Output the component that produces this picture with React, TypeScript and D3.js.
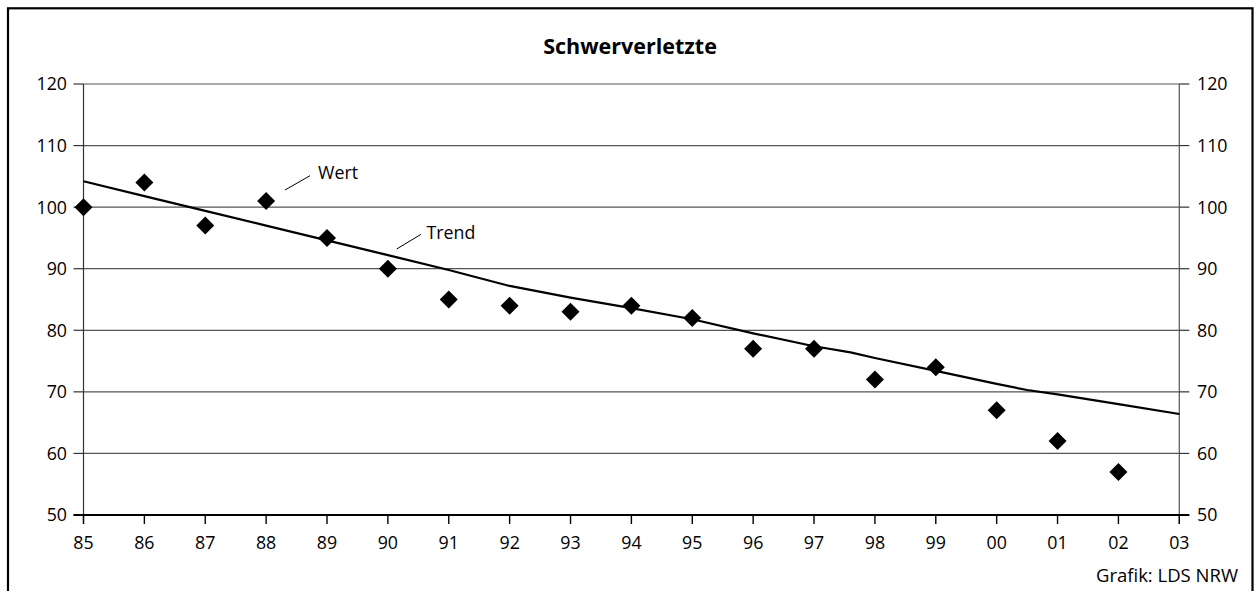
import React from "react";
import * as d3 from "d3";

const years = [85, 86, 87, 88, 89, 90, 91, 92, 93, 94, 95, 96, 97, 98, 99, 100, 101, 102];
const values = [100, 104, 97, 101, 95, 90, 85, 84, 83, 84, 82, 77, 77, 72, 74, 67, 62, 57];
const trendYears = [85, 86, 87, 88, 89, 90, 91, 92, 93, 94, 95, 96, 97, 97.6, 98, 99, 100, 100.5, 101, 102, 103];
const trendValues = [104.2, 101.8, 99.4, 97.0, 94.6, 92.2, 89.8, 87.2, 85.3, 83.6, 81.8, 79.5, 77.4, 76.4, 75.5, 73.4, 71.3, 70.3, 69.6, 68.0, 66.4];
const xTicks = [85, 86, 87, 88, 89, 90, 91, 92, 93, 94, 95, 96, 97, 98, 99, 100, 101, 102, 103];
const xTickLabels = ["85", "86", "87", "88", "89", "90", "91", "92", "93", "94", "95", "96", "97", "98", "99", "00", "01", "02", "03"];
const yTicks = [50, 60, 70, 80, 90, 100, 110, 120];

const W = 1256;
const H = 591;
const FONT = "'Open Sans', 'Noto Sans', sans-serif";
const FS = 17.8;

export default function App() {
  const x = d3.scaleLinear().domain([85, 103]).range([83.5, 1179.3]);
  const y = d3.scaleLinear().domain([50, 120]).range([515, 84]);
  const line = d3
    .line<number>()
    .x((_, i) => x(trendYears[i]))
    .y((d) => y(d));
  const diamond = (cx: number, cy: number) => {
    const r = 9;
    return `M${cx},${cy - r}L${cx + r},${cy}L${cx},${cy + r}L${cx - r},${cy}Z`;
  };
  return (
    <svg
      width={W}
      height={H}
      style={{ position: "absolute", left: 0, top: 0, background: "#fff" }}
      fontFamily={FONT}
    >
      <rect x={0} y={0} width={W} height={H} fill="#fff" />
      <rect x={8} y={8.3} width={1244.5} height={700} fill="none" stroke="#000" strokeWidth={2.2} />
      <text x={630} y={53.5} textAnchor="middle" fontSize={21.5} fontWeight="bold" fill="#000">
        Schwerverletzte
      </text>
      {/* gridlines */}
      {yTicks.map((t) =>
        t === 50 ? null : (
          <line key={"g" + t} x1={x(85)} x2={x(103)} y1={y(t)} y2={y(t)} stroke="#555" strokeWidth={1.2} />
        )
      )}
      {/* axes */}
      <line x1={x(85)} x2={x(85)} y1={y(120)} y2={y(50) + 9} stroke="#333" strokeWidth={1.2} />
      <line x1={x(103)} x2={x(103)} y1={y(120)} y2={y(50) + 9} stroke="#555" strokeWidth={1.2} />
      {yTicks.map((t) => (
        <g key={"yt" + t}>
          <line x1={x(85) - 10} x2={x(85)} y1={y(t)} y2={y(t)} stroke="#333" strokeWidth={1.2} />
          <line x1={x(103)} x2={x(103) + 10} y1={y(t)} y2={y(t)} stroke="#333" strokeWidth={1.2} />
          <text x={67} y={y(t)} dy="0.36em" textAnchor="end" fontSize={FS} fill="#000">
            {t}
          </text>
          <text x={1197} y={y(t)} dy="0.36em" textAnchor="start" fontSize={FS} fill="#000">
            {t}
          </text>
        </g>
      ))}
      <line x1={x(85) - 10} x2={x(103) + 10} y1={y(50)} y2={y(50)} stroke="#000" strokeWidth={2.2} />
      {xTicks.map((t, i) => (
        <g key={"xt" + t}>
          <line x1={x(t)} x2={x(t)} y1={y(50)} y2={y(50) + 9} stroke="#000" strokeWidth={1.4} />
          <text x={x(t)} y={548.5} textAnchor="middle" fontSize={FS} fill="#000">
            {xTickLabels[i]}
          </text>
        </g>
      ))}
      {/* trend */}
      <path d={line(trendValues) || ""} fill="none" stroke="#000" strokeWidth={2.2} />
      {/* values */}
      {values.map((v, i) => (
        <path key={"p" + i} d={diamond(x(years[i]), y(v))} fill="#000" />
      ))}
      {/* annotations */}
      <line x1={285} y1={190} x2={310} y2={175.7} stroke="#000" strokeWidth={1} />
      <text x={318} y={179} fontSize={FS} fill="#000">Wert</text>
      <line x1={396.7} y1={249} x2={421} y2={234.3} stroke="#000" strokeWidth={1} />
      <text x={426.5} y={238.5} fontSize={FS} fill="#000">Trend</text>
      <text x={1238} y={582} textAnchor="end" fontSize={18.5} fill="#000">
        Grafik: LDS NRW
      </text>
    </svg>
  );
}
